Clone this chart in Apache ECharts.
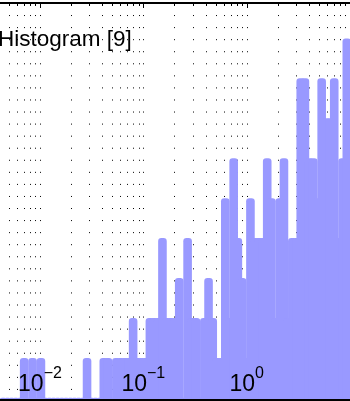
<!DOCTYPE html>
<html><head><meta charset="utf-8">
<script src="https://cdn.jsdelivr.net/npm/echarts@6/dist/echarts.min.js"></script>
<style>html,body{margin:0;padding:0;background:#fff}#c{width:350px;height:401px}</style>
</head><body><div id="c"></div>
<script>
const titleText = 'Histogram [9]';
// bin centres (log-spaced bins)
const binCenters = [
  0.004413, 0.004844, 0.005318, 0.005839, 0.006410, 0.007037, 0.007726, 0.008482, 0.009312, 0.01022,
  0.01122, 0.01232, 0.01353, 0.01485, 0.01630, 0.01790, 0.01965, 0.02157, 0.02368, 0.02600,
  0.02855, 0.03134, 0.03441, 0.03777, 0.04147, 0.04552, 0.04998, 0.05487, 0.06024, 0.06613,
  0.07260, 0.07971, 0.08751, 0.09607, 0.1055, 0.1158, 0.1271, 0.1396, 0.1532, 0.1682,
  0.1847, 0.2027, 0.2226, 0.2443, 0.2683, 0.2945, 0.3233, 0.3549, 0.3897, 0.4278,
  0.4697, 0.5156, 0.5661, 0.6215, 0.6823, 0.7490, 0.8223, 0.9028, 0.9911, 1.088,
  1.195, 1.311, 1.440, 1.581, 1.735, 1.905, 2.092, 2.296, 2.521, 2.767,
  3.038, 3.336, 3.662, 4.020, 4.414, 4.845, 5.320, 5.840, 6.412, 7.039,
  7.728, 8.484, 9.314
];
const counts = [
  0, 0, 0, 0, 0, 1, 0, 1, 0, 1,
  0, 0, 0, 0, 0, 0, 0, 0, 0, 0,
  1, 0, 0, 0, 1, 1, 0, 1, 1, 1,
  1, 2, 1, 1, 1, 2, 2, 2, 4, 2,
  2, 2, 3, 0, 4, 2, 2, 0, 2, 3,
  2, 1, 1, 5, 2, 6, 4, 3, 1, 5,
  4, 4, 4, 6, 5, 2, 5, 6, 2, 4,
  4, 8, 8, 6, 6, 5, 8, 7, 7, 8,
  4, 6, 9
];
const gridTicks = [
  0.005, 0.006, 0.007, 0.008, 0.009,
  0.01, 0.02, 0.03, 0.04, 0.05, 0.06, 0.07, 0.08, 0.09,
  0.1, 0.2, 0.3, 0.4, 0.5, 0.6, 0.7, 0.8, 0.9,
  1, 2, 3, 4, 5, 6, 7, 8, 9, 10
];
const labelTicks = [0.01, 0.1, 1];
const xMin = 0.0041053, xMax = 10, yMax = 9.94;

const BAR = '#9999ff';
const FONT = '"Liberation Sans", Arial, Helvetica, sans-serif';
const chart = echarts.init(document.getElementById('c'), null, {renderer: 'canvas'});

function isPow10(v) {
  const l = Math.log10(v);
  return Math.abs(l - Math.round(l)) < 1e-9;
}

const option = {
  animation: false,
  title: {
    text: titleText, left: -2, top: 28.5, padding: 0,
    textStyle: {fontFamily: FONT, fontSize: 22.5, fontWeight: 'normal', color: '#000'}
  },
  grid: {left: 0, right: 0, top: 3, bottom: 1, containLabel: false},
  xAxis: [
    {
      type: 'log', logBase: 10, min: xMin, max: xMax, position: 'bottom', z: 10,
      axisLine: {show: true, lineStyle: {color: '#000', width: 2}},
      axisTick: {show: false}, splitLine: {show: false},
      axisLabel: {
        inside: true, margin: -3, showMinLabel: false, showMaxLabel: false,
        formatter: function (v) {
          const l = Math.log10(v), r = Math.round(l);
          if (Math.abs(l - r) > 1e-6) return '';
          if (!labelTicks.some(t => Math.abs(Math.log10(t) - r) < 1e-6)) return '';
          return '{b|10}{s|' + (r < 0 ? '\u2212' + (-r) : String(r)) + '}';
        },
        rich: {
          b: {fontFamily: FONT, fontSize: 23, lineHeight: 37, color: '#000'},
          s: {fontFamily: FONT, fontSize: 16, lineHeight: 16, color: '#000', verticalAlign: 'top'}
        }
      }
    },
    {
      type: 'log', logBase: 10, min: xMin, max: xMax, position: 'top', z: 10,
      axisLine: {show: true, lineStyle: {color: '#000', width: 2}},
      axisTick: {show: false}, axisLabel: {show: false}, splitLine: {show: false}
    }
  ],
  yAxis: {type: 'value', min: 0, max: yMax, show: false},
  series: [
    {
      type: 'custom', z: 1, silent: true, xAxisIndex: 0,
      data: gridTicks.map(v => [v, 0]),
      encode: {x: 0, y: 1},
      renderItem: function (params, api) {
        const v = api.value(0);
        const p = api.coord([v, 0]);
        const cs = params.coordSys;
        const x = Math.round(p[0]) + 0.5;
        const top = cs.y, bottom = cs.y + cs.height;
        const major = isPow10(v);
        return {
          type: 'group',
          children: [
            {type: 'line', shape: {x1: x, y1: top, x2: x, y2: bottom},
             style: {stroke: '#000', lineWidth: 1, lineDash: [1, 11.06]}},
            {type: 'line', shape: {x1: x, y1: top, x2: x, y2: top + (major ? 5 : 3)},
             style: {stroke: '#000', lineWidth: 1}}
          ]
        };
      }
    },
    {
      type: 'custom', z: 2, silent: true, xAxisIndex: 0, clip: true,
      data: binCenters.map((x, i) => [x, counts[i]]),
      encode: {x: 0, y: 1},
      renderItem: function (params, api) {
        const x = api.value(0), c = api.value(1);
        const p = api.coord([x, c]);
        const b = api.coord([x, 0]);
        const half = 4.3, cap = 2.15;
        const top = p[1] - cap;
        const h = b[1] + 2 - top;
        return {
          type: 'rect',
          shape: {x: p[0] - half, y: top, width: 2 * half, height: h, r: [3.2, 3.2, 0, 0]},
          style: {fill: BAR}
        };
      }
    }
  ]
};
chart.setOption(option);
</script>
</body></html>
